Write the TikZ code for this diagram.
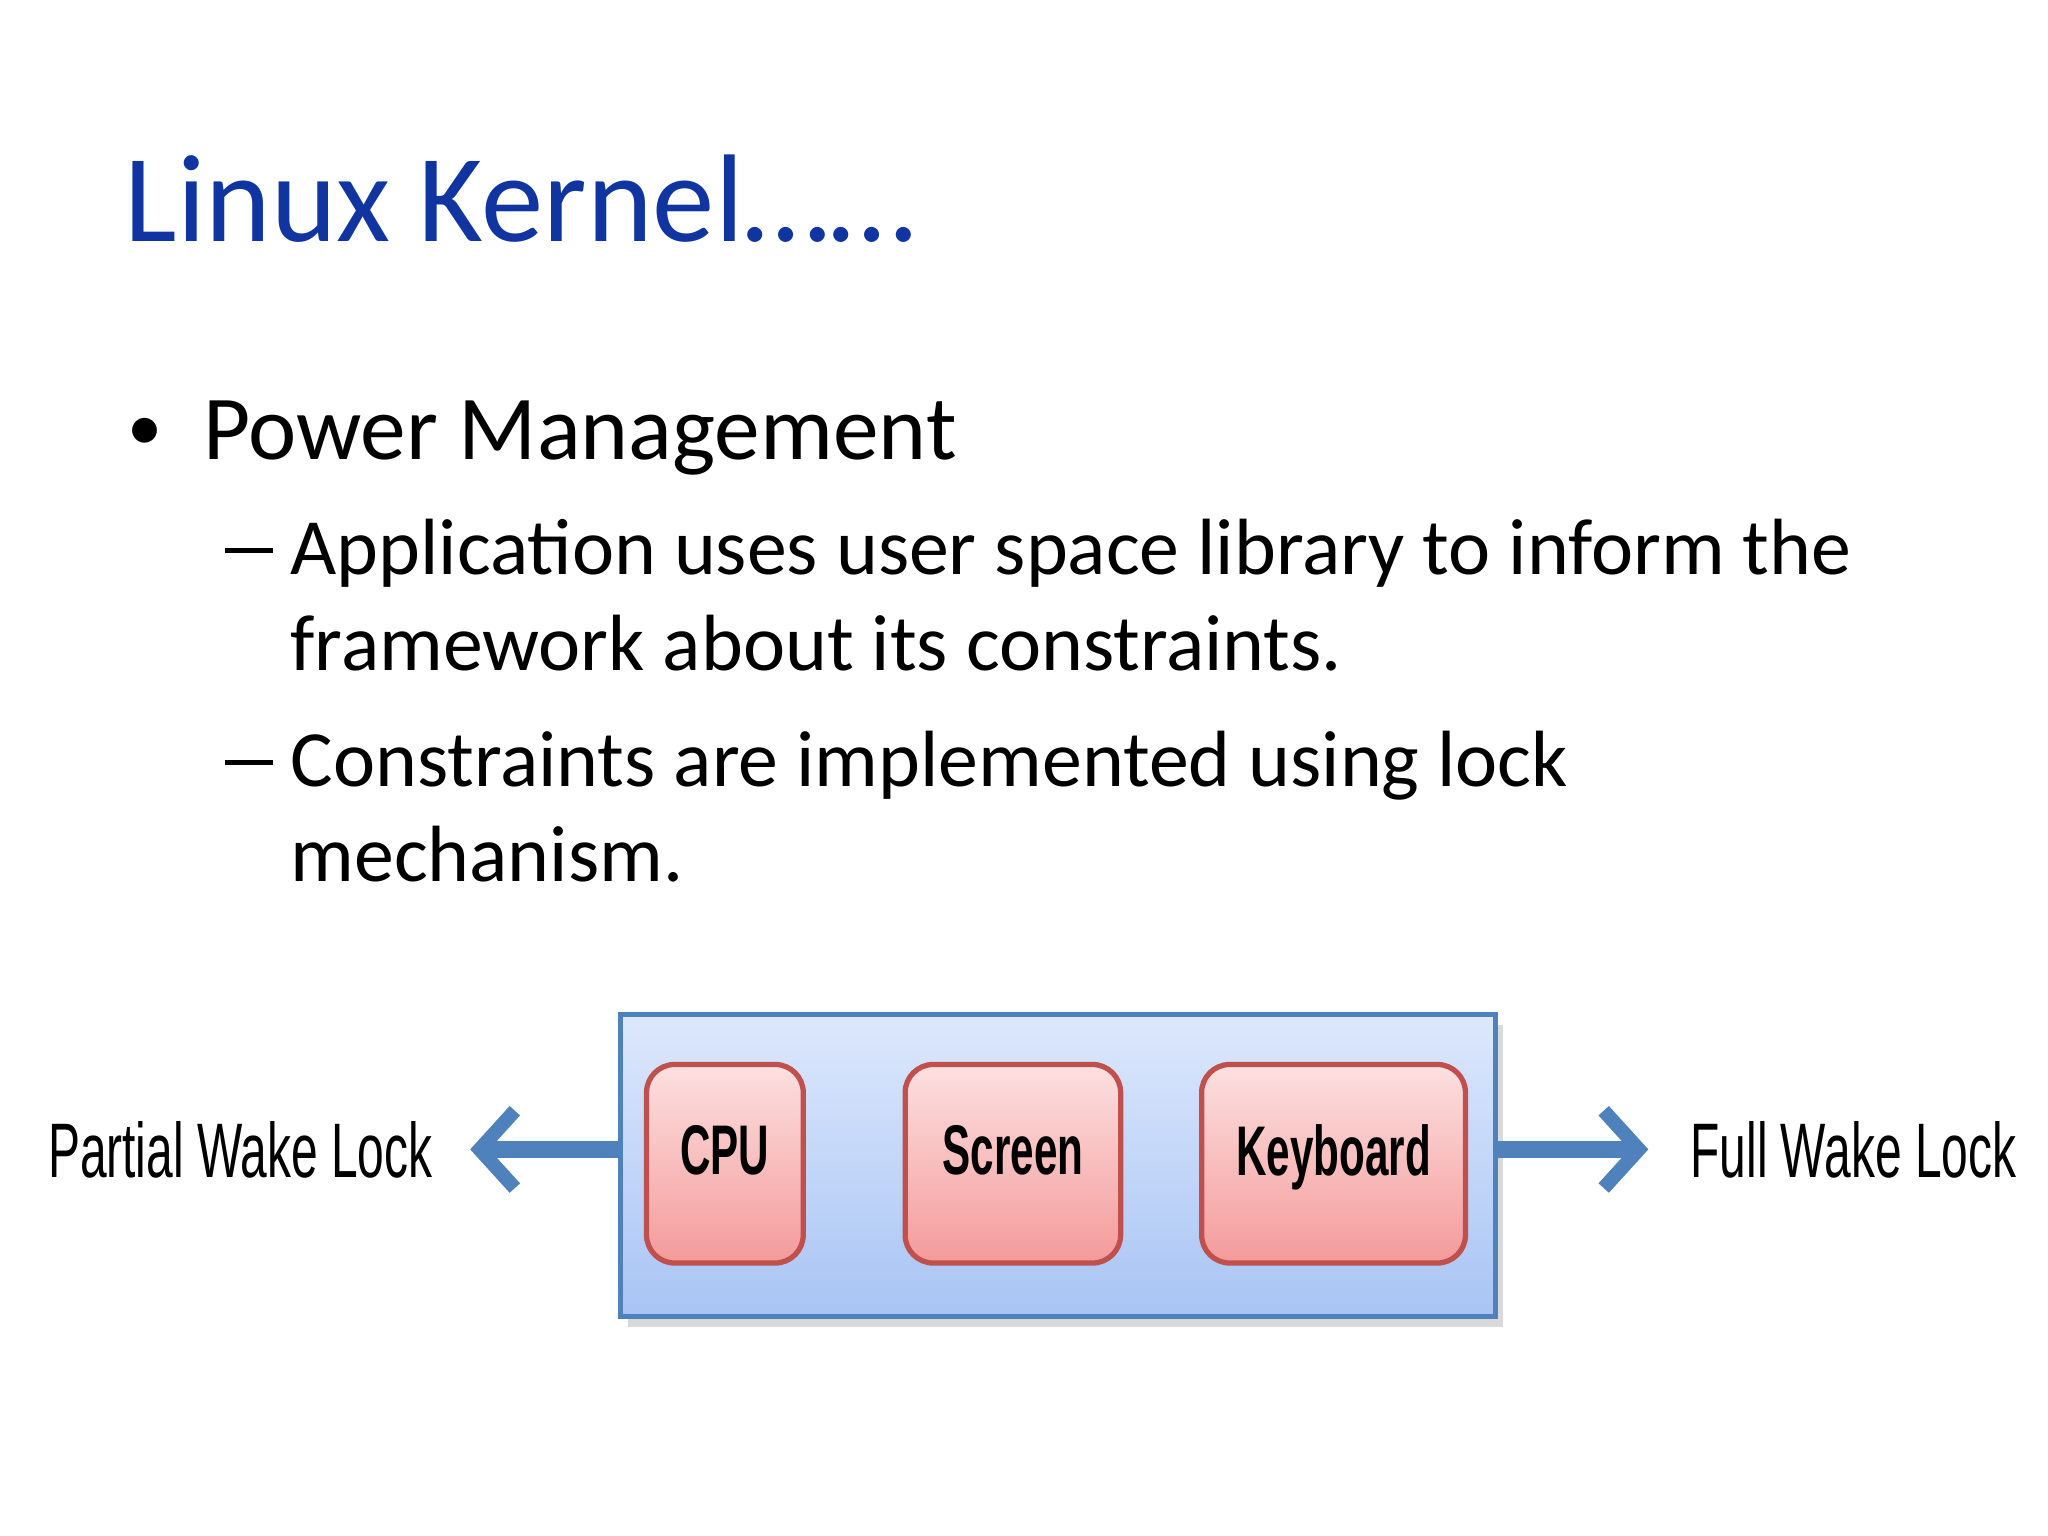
\documentclass[tikz,border=0pt]{standalone}
\usepackage{fontspec}
\setmainfont{Carlito}
\newfontfamily\narrowfont{Liberation Sans}
\usetikzlibrary{arrows.meta}
\definecolor{ttl}{HTML}{1034A0}
\definecolor{bord}{HTML}{4F81BD}
\definecolor{pinkb}{HTML}{C0504D}
\definecolor{otop}{HTML}{DDE8FC}
\definecolor{obot}{HTML}{A8C4F4}
\definecolor{ptop}{HTML}{FCE0E0}
\definecolor{pbot}{HTML}{F49A9A}
\tikzset{
  txt/.style={anchor=base west,inner sep=0,font=\fontsize{26}{31}\selectfont},
  sub/.style={anchor=base west,inner sep=0,font=\fontsize{22.7}{27}\selectfont},
  key/.style={draw=pinkb,line width=1.5pt,rounded corners=8pt,top color=ptop,bottom color=pbot,inner sep=0,
    font=\narrowfont\bfseries\fontsize{20}{24}\selectfont},
  lbl/.style={inner sep=0,font=\narrowfont\fontsize{22}{26}\selectfont,xscale=0.62},
  arr/.style={bord,line width=5pt,-{Straight Barb[length=10pt,width=22pt,line width=4pt]}}
}
\begin{document}
\begin{tikzpicture}[x=0.01306cm,y=-0.01306cm]
\useasboundingbox (0,0) rectangle (1568,1176);
\node[anchor=base west,inner sep=0,text=ttl,font=\fontsize{35.5}{42}\selectfont] (title) at (95,185) {Linux Kernel……};
\node[txt,font=\fontsize{20}{24}\selectfont] (b1) at (97,345) {•};
\node[txt] (t1) at (155,352) {Power Management};
\node[sub] (d1) at (172,440) {\rule[0.27em]{0.6em}{0.06em}};
\node[sub] (t2) at (222,440) {Application uses user space library to inform the};
\node[sub] (t3) at (222,513) {framework about its constraints.};
\node[sub] (d2) at (172,602) {\rule[0.27em]{0.6em}{0.06em}};
\node[sub] (t4) at (222,602) {Constraints are implemented using lock};
\node[sub] (t5) at (222,675) {mechanism.};
% diagram
\fill[black!15] (481,785) rectangle (1151,1016);
\node[draw=bord,line width=1.5pt,top color=otop,bottom color=obot,minimum width=670*0.01306cm,minimum height=231*0.01306cm,inner sep=0] (outer) at (810,892.5) {};
\node[key,minimum width=120*0.01306cm,minimum height=152*0.01306cm] (cpu) at (555,891) {\raisebox{0.4em}{\scalebox{0.6}[1]{CPU}}};
\node[key,minimum width=165*0.01306cm,minimum height=152*0.01306cm] (scr) at (775.5,891) {\raisebox{0.4em}{\scalebox{0.6}[1]{Screen}}};
\node[key,minimum width=202*0.01306cm,minimum height=152*0.01306cm] (kbd) at (1021,891) {\raisebox{0.4em}{\scalebox{0.6}[1]{Keyboard}}};
\node[lbl] (pwl) at (184,880) {Partial Wake Lock};
\node[lbl] (fwl) at (1419,880) {Full Wake Lock};
\coordinate (la) at (360,880);
\coordinate (ra) at (1262,880);
\draw[arr] (outer.west |- la) -- (la);
\draw[arr] (outer.east |- ra) -- (ra);
\end{tikzpicture}
\end{document}
